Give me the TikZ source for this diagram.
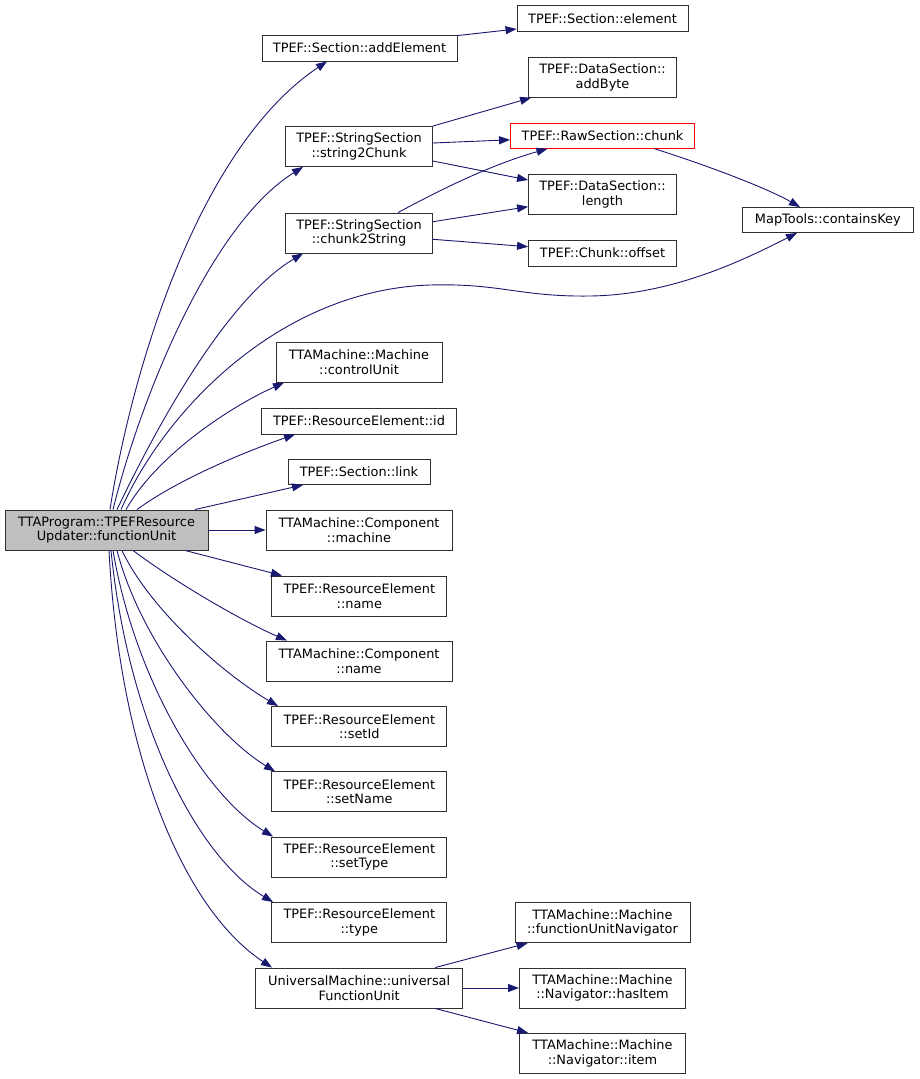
\documentclass[tikz,border=0pt]{standalone}
\usepackage{fontspec}
\setmainfont{DejaVu Sans}
\usetikzlibrary{arrows.meta,calc}
\definecolor{edgecol}{HTML}{191970}
\definecolor{mainfill}{HTML}{BFBFBF}
\definecolor{boxline}{HTML}{303030}
\begin{document}
\begin{tikzpicture}[x=1pt,y=-1pt,
  box/.style={draw=boxline, line width=0.9pt, fill=white, inner sep=0pt, align=center,
    font=\fontsize{12.9}{14.4}\selectfont, text=black},
  calls/.style={draw=edgecol, line width=0.9pt, -{Triangle[length=11pt,width=8pt]}, fill=none},
]
\useasboundingbox[fill=white] (0,0) rectangle (919,1079);

% nodes
\node[box, fill=mainfill, minimum width=203pt, minimum height=40pt] (main) at (106.5,530) {TTAProgram::TPEFResource\\Updater::functionUnit};
\node[box, minimum width=195pt, minimum height=26pt] (addElement) at (359.5,48) {TPEF::Section::addElement};
\node[box, minimum width=171pt, minimum height=26pt] (element) at (602.5,18.5) {TPEF::Section::element};
\node[box, minimum width=148pt, minimum height=40pt] (addByte) at (602.5,77.3) {TPEF::DataSection::\\addByte};
\node[box, minimum width=147pt, minimum height=40pt] (s2c) at (359,146.5) {TPEF::StringSection\\::string2Chunk};
\node[box, draw=red, minimum width=184pt, minimum height=25pt] (chunk) at (602.5,135.8) {TPEF::RawSection::chunk};
\node[box, minimum width=148pt, minimum height=40pt] (length) at (602.5,194.3) {TPEF::DataSection::\\length};
\node[box, minimum width=147pt, minimum height=40pt] (c2s) at (359,233) {TPEF::StringSection\\::chunk2String};
\node[box, minimum width=148pt, minimum height=26pt] (offset) at (602.5,253) {TPEF::Chunk::offset};
\node[box, minimum width=171pt, minimum height=25pt] (ck) at (827.8,220) {MapTools::containsKey};
\node[box, minimum width=166pt, minimum height=40pt] (cu) at (359,362.3) {TTAMachine::Machine\\::controlUnit};
\node[box, minimum width=195pt, minimum height=26pt] (id) at (359,421) {TPEF::ResourceElement::id};
\node[box, minimum width=142pt, minimum height=25pt] (link) at (359,472) {TPEF::Section::link};
\node[box, minimum width=186pt, minimum height=40pt] (machine) at (359,530) {TTAMachine::Component\\::machine};
\node[box, minimum width=175pt, minimum height=40pt] (rename) at (359.3,596) {TPEF::ResourceElement\\::name};
\node[box, minimum width=186pt, minimum height=40pt] (cname) at (359,661) {TTAMachine::Component\\::name};
\node[box, minimum width=175pt, minimum height=40pt] (setid) at (359.3,726.5) {TPEF::ResourceElement\\::setId};
\node[box, minimum width=175pt, minimum height=40pt] (setname) at (359.3,791.8) {TPEF::ResourceElement\\::setName};
\node[box, minimum width=175pt, minimum height=40pt] (settype) at (359.3,857) {TPEF::ResourceElement\\::setType};
\node[box, minimum width=175pt, minimum height=40pt] (type) at (359.3,922.5) {TPEF::ResourceElement\\::type};
\node[box, minimum width=207pt, minimum height=40pt] (univ) at (359.2,988) {UniversalMachine::universal\\FunctionUnit};
\node[box, minimum width=175pt, minimum height=40pt] (fun) at (602.5,922.7) {TTAMachine::Machine\\::functionUnitNavigator};
\node[box, minimum width=166pt, minimum height=40pt] (hasitem) at (602.5,988) {TTAMachine::Machine\\::Navigator::hasItem};
\node[box, minimum width=166pt, minimum height=40pt] (item) at (602.5,1053.3) {TTAMachine::Machine\\::Navigator::item};

% edges from main, upward
\draw[calls] ($(main.north)+(3.5,0)$) .. controls (130,380) and (195,150) .. ($(addElement.south)+(-32.5,0)$);
\draw[calls] ($(main.north)+(6.5,0)$) .. controls (140,400) and (210,225) .. ($(s2c.south)+(-56,0)$);
\draw[calls] ($(main.north)+(10.5,0)$) .. controls (155,430) and (225,300) .. ($(c2s.south)+(-56,0)$);
\draw[calls] ($(main.north)+(14.5,0)$) .. controls (165,410) and (280,290) .. (430,285)
   .. controls (500,283) and (520,297) .. (590,296)
   .. controls (670,295) and (740,262) .. ($(ck.south)+(-30.8,0)$);
\draw[calls] ($(main.north)+(19.5,0)$) .. controls (160,450) and (240,402) .. ($(cu.south)+(-75,0)$);
\draw[calls] ($(main.north)+(30.5,0)$) .. controls (180,478) and (250,450) .. ($(id.south)+(-64,0)$);
\draw[calls] ($(main.north)+(88.5,0)$) -- ($(link.south)+(-56,0)$);
\draw[calls] (main.east) -- (machine.west);
% edges from main, downward
\draw[calls] ($(main.south)+(78.5,0)$) -- ($(rename.north)+(-77.3,0)$);
\draw[calls] ($(main.south)+(26.5,0)$) .. controls (175,582) and (240,620) .. ($(cname.north)+(-72,0)$);
\draw[calls] ($(main.south)+(15.5,0)$) .. controls (150,610) and (225,675) .. ($(setid.north)+(-81.3,0)$);
\draw[calls] ($(main.south)+(10.5,0)$) .. controls (140,640) and (215,735) .. ($(setname.north)+(-84.3,0)$);
\draw[calls] ($(main.south)+(6.5,0)$) .. controls (135,680) and (205,795) .. ($(settype.north)+(-86.3,0)$);
\draw[calls] ($(main.south)+(4.5,0)$) .. controls (128,720) and (195,855) .. ($(type.north)+(-86.3,0)$);
\draw[calls] ($(main.south)+(2.5,0)$) .. controls (120,760) and (185,910) .. ($(univ.north)+(-87.2,0)$);

% second level
\draw[calls] ($(addElement.north east)+(0,1)$) -- ($(element.west)+(0,10.5)$);
\draw[calls] (s2c.north east) -- ($(addByte.south west)+(3,0)$);
\draw[calls] ($(s2c.east)+(0,-3.5)$) -- ($(chunk.west)+(0,4)$);
\draw[calls] ($(s2c.east)+(0,14.5)$) -- ($(length.west)+(0,-14.3)$);
\draw[calls] ($(c2s.north)+(39,0)$) .. controls (440,190) and (490,165) .. ($(chunk.south)+(-55,0)$);
\draw[calls] ($(c2s.east)+(0,-11.3)$) -- ($(length.west)+(0,12.4)$);
\draw[calls] ($(c2s.east)+(0,6.3)$) -- ($(offset.west)+(0,-6.3)$);
\draw[calls] ($(chunk.south)+(52,0)$) .. controls (700,163) and (765,187) .. ($(ck.north)+(-27.8,0)$);
\draw[calls] ($(univ.north)+(76,0)$) -- ($(fun.south west)+(13,0)$);
\draw[calls] (univ.east) -- (hasitem.west);
\draw[calls] ($(univ.south)+(76,0)$) -- ($(item.north west)+(9,0)$);
\end{tikzpicture}
\end{document}
